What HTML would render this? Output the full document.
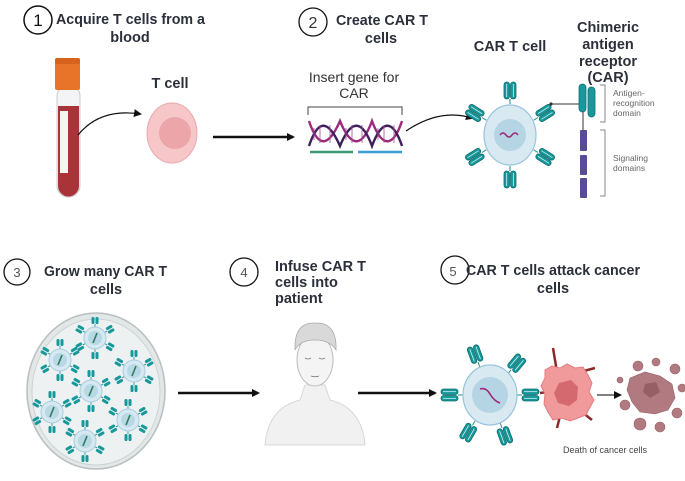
<!DOCTYPE html>
<html><head><meta charset="utf-8"><style>
html,body{margin:0;padding:0;background:#fff;}
svg{display:block;font-family:"Liberation Sans",sans-serif;}
.h{font-weight:bold;font-size:14.5px;fill:#2b2f3a;}
.n{font-size:14px;fill:#333;}
.s{font-size:8.5px;fill:#666;}
</style></head><body>
<svg width="685" height="481" viewBox="0 0 685 481" xmlns="http://www.w3.org/2000/svg">
<defs>
<g id="rc">
<line x1="0" y1="0" x2="0" y2="-5" stroke="#1f8a8c" stroke-width="1"/>
<rect x="-6" y="-22" width="5.5" height="17" rx="2.7" fill="#17999b" stroke="#0f6e70" stroke-width="0.8"/>
<rect x="0.5" y="-22" width="5.5" height="17" rx="2.7" fill="#17999b" stroke="#0f6e70" stroke-width="0.8"/>
<line x1="-3.3" y1="-20" x2="-3.3" y2="-7" stroke="#e8fafa" stroke-width="0.7"/>
<line x1="3.3" y1="-20" x2="3.3" y2="-7" stroke="#e8fafa" stroke-width="0.7"/>
</g>
<g id="mr">
<line x1="0" y1="0" x2="0" y2="-3" stroke="#1f8a8c" stroke-width="0.8"/>
<rect x="-3.5" y="-10" width="3" height="7" rx="1.4" fill="#17999b"/>
<rect x="0.5" y="-10" width="3" height="7" rx="1.4" fill="#17999b"/>
</g>
<g id="mc">
<use href="#mr" transform="translate(0,-11)"/>
<use href="#mr" transform="rotate(60) translate(0,-11)"/>
<use href="#mr" transform="rotate(120) translate(0,-11)"/>
<use href="#mr" transform="rotate(180) translate(0,-11)"/>
<use href="#mr" transform="rotate(240) translate(0,-11)"/>
<use href="#mr" transform="rotate(300) translate(0,-11)"/>
<circle r="11" fill="#d6e9f1" stroke="#a9cde0" stroke-width="1"/>
<circle r="7" fill="#b9d8e6"/>
<path d="M-2,5 L2,-5" stroke="#2e7d5a" stroke-width="1.6"/>
</g>
<marker id="ah" markerWidth="8" markerHeight="8" refX="6" refY="4" orient="auto" markerUnits="userSpaceOnUse"><path d="M0,0 L8,4 L0,8 Z" fill="#111"/></marker>
</defs>

<!-- Step 1 -->
<circle cx="38" cy="20" r="14" fill="none" stroke="#111" stroke-width="1.5"/>
<text x="38" y="26" text-anchor="middle" font-size="17" fill="#111">1</text>
<text x="56" y="24" class="h" textLength="149" lengthAdjust="spacingAndGlyphs">Acquire T cells from a</text>
<text x="130" y="42" class="h" text-anchor="middle">blood</text>
<rect x="57" y="85" width="23" height="112" rx="11" fill="#f2f4f5" stroke="#ccc"/>
<path d="M58,106 L79,106 L79,186 A10.5,10.5 0 0 1 58,186 Z" fill="#a8343a"/>
<rect x="60" y="111" width="8" height="62" fill="#f4f4f0"/>
<rect x="55" y="60" width="25" height="30" rx="2" fill="#e8742a"/>
<rect x="55" y="58" width="25" height="6" rx="2" fill="#d7621c"/>
<path d="M78,135 Q100,108 140,114" fill="none" stroke="#111" stroke-width="1.2" marker-end="url(#ah)"/>
<text x="170" y="88" class="h" font-size="13" text-anchor="middle">T cell</text>
<ellipse cx="172" cy="133" rx="25" ry="30" fill="#f6c6c8" stroke="#e9a8ab"/>
<circle cx="175" cy="133" r="16" fill="#eca6aa"/>
<line x1="213" y1="137" x2="293" y2="137" stroke="#111" stroke-width="2.5" marker-end="url(#ah)"/>

<!-- Step 2 -->
<circle cx="313" cy="22" r="14" fill="none" stroke="#111" stroke-width="1.3"/>
<text x="313" y="28" text-anchor="middle" font-size="16" fill="#333">2</text>
<text x="336" y="25" class="h" textLength="92" lengthAdjust="spacingAndGlyphs">Create CAR T</text>
<text x="381" y="43" class="h" text-anchor="middle">cells</text>
<text x="354" y="82" class="n" text-anchor="middle">Insert gene for</text>
<text x="354" y="98" class="n" text-anchor="middle">CAR</text>
<path d="M308,115 L308,107 L402,107 L402,115" fill="none" stroke="#444" stroke-width="1"/>
<g fill="none" stroke-width="2.4">
<path d="M309,121 C318,148 328,148 340,121 C351,148 362,148 372,121 C382,148 393,148 402,121" stroke="#9c2a7c"/>
<path d="M309,146 C318,119 328,119 340,146 C351,119 362,119 372,146 C382,119 393,119 402,146" stroke="#3c1f5c"/>
</g>
<g stroke="#a0528f" stroke-width="0.8">
<line x1="314" y1="128" x2="314" y2="140"/><line x1="320" y1="125" x2="320" y2="143"/><line x1="330" y1="125" x2="330" y2="143"/><line x1="346" y1="128" x2="346" y2="140"/><line x1="352" y1="125" x2="352" y2="143"/><line x1="362" y1="125" x2="362" y2="143"/><line x1="378" y1="128" x2="378" y2="140"/><line x1="384" y1="125" x2="384" y2="143"/><line x1="394" y1="125" x2="394" y2="143"/>
</g>
<line x1="310" y1="152" x2="353" y2="152" stroke="#3a9a76" stroke-width="2.5"/>
<line x1="358" y1="152" x2="402" y2="152" stroke="#3b9bd2" stroke-width="2.5"/>
<path d="M406,131 Q440,108 472,118" fill="none" stroke="#111" stroke-width="1.2" marker-end="url(#ah)"/>

<!-- CAR T cell -->
<text x="510" y="51" class="h" font-size="13.5" text-anchor="middle">CAR T cell</text>
<g transform="translate(510,135)">
<use href="#rc" transform="translate(0,-31)"/>
<use href="#rc" transform="rotate(58) translate(0,-28)"/>
<use href="#rc" transform="rotate(122) translate(0,-28)"/>
<use href="#rc" transform="rotate(180) translate(0,-31)"/>
<use href="#rc" transform="rotate(238) translate(0,-28)"/>
<use href="#rc" transform="rotate(302) translate(0,-28)"/>
<ellipse rx="26" ry="30" fill="#d8e9f1" stroke="#97c5dc" stroke-width="1.2"/>
<circle r="16" fill="#b5d5e4"/>
<path d="M-10,0 Q-7,-4 -4,0 T2,0 T8,0" fill="none" stroke="#9c2a7c" stroke-width="1.5"/>
</g>
<line x1="551" y1="104" x2="580" y2="104" stroke="#333" stroke-width="1"/>
<circle cx="551" cy="104" r="1.6" fill="#333"/>
<text x="608" y="32" class="h" font-size="13.5" text-anchor="middle">Chimeric</text>
<text x="608" y="49" class="h" font-size="13.5" text-anchor="middle">antigen</text>
<text x="608" y="66" class="h" font-size="13.5" text-anchor="middle">receptor</text>
<text x="608" y="82" class="h" font-size="13.5" text-anchor="middle">(CAR)</text>
<rect x="579" y="84" width="7" height="28" rx="3.5" fill="#17999b" stroke="#0f6e70" stroke-width="0.8"/>
<rect x="588" y="87" width="7" height="30" rx="3.5" fill="#17999b" stroke="#0f6e70" stroke-width="0.8"/>
<line x1="583" y1="112" x2="583" y2="130" stroke="#555" stroke-width="1.2"/>
<rect x="580" y="130" width="7" height="21" rx="1" fill="#5a4a9a"/>
<rect x="580" y="155" width="7" height="20" rx="1" fill="#5a4a9a"/>
<rect x="580" y="178" width="7" height="20" rx="1" fill="#5a4a9a"/>
<path d="M600,85 L605,85 L605,122 L600,122 M600,130 L605,130 L605,196 L600,196" fill="none" stroke="#888" stroke-width="1"/>
<text x="613" y="96" class="s">Antigen-</text>
<text x="613" y="106" class="s">recognition</text>
<text x="613" y="116" class="s">domain</text>
<text x="613" y="161" class="s">Signaling</text>
<text x="613" y="171" class="s">domains</text>

<!-- Step 3 -->
<circle cx="17" cy="272" r="13" fill="none" stroke="#111" stroke-width="1.3"/>
<text x="17" y="277" text-anchor="middle" font-size="13" fill="#555">3</text>
<text x="44" y="276" class="h" textLength="123" lengthAdjust="spacingAndGlyphs">Grow many CAR T</text>
<text x="106" y="294" class="h" text-anchor="middle">cells</text>
<ellipse cx="96" cy="391" rx="69" ry="78" fill="#e2e7e8" stroke="#b9bfc1" stroke-width="1.5"/>
<ellipse cx="96" cy="392" rx="64" ry="73" fill="#edf1f2" stroke="#cdd3d4" stroke-width="1"/>
<use href="#mc" transform="translate(60,360)"/>
<use href="#mc" transform="translate(95,338)"/>
<use href="#mc" transform="translate(134,371)"/>
<use href="#mc" transform="translate(91,391)"/>
<use href="#mc" transform="translate(52,412)"/>
<use href="#mc" transform="translate(128,420)"/>
<use href="#mc" transform="translate(85,441)"/>
<line x1="178" y1="393" x2="258" y2="393" stroke="#111" stroke-width="2.5" marker-end="url(#ah)"/>

<!-- Step 4 -->
<circle cx="244" cy="272" r="14" fill="none" stroke="#111" stroke-width="1.3"/>
<text x="244" y="277" text-anchor="middle" font-size="13" fill="#555">4</text>
<text x="275" y="271" class="h">Infuse CAR T</text>
<text x="275" y="287" class="h">cells into</text>
<text x="275" y="303" class="h">patient</text>
<path d="M265,445 Q268,408 300,400 L305,385 L325,385 L330,400 Q362,408 365,445 Z" fill="#f1f1f1" stroke="#d8d8d8"/>
<ellipse cx="315" cy="360" rx="18" ry="26" fill="#f4f4f4" stroke="#bbb"/>
<path d="M295,350 Q294,322 315,323 Q337,322 336,350 Q330,340 315,340 Q300,340 295,350 Z" fill="#d9d9d9" stroke="#aaa" stroke-width="0.8"/>
<path d="M305,358 q3,2 6,0 M319,358 q3,2 6,0 M311,376 q4,1.5 8,0" fill="none" stroke="#777" stroke-width="0.8"/>
<line x1="358" y1="393" x2="435" y2="393" stroke="#111" stroke-width="2.5" marker-end="url(#ah)"/>

<!-- Step 5 -->
<circle cx="455" cy="270" r="14" fill="none" stroke="#111" stroke-width="1.3"/>
<text x="453" y="276" text-anchor="middle" font-size="13" fill="#555">5</text>
<text x="466" y="275" class="h" textLength="174" lengthAdjust="spacingAndGlyphs">CAR T cells attack cancer</text>
<text x="553" y="293" class="h" text-anchor="middle">cells</text>
<g transform="translate(490,395)">
<use href="#rc" transform="rotate(-20) translate(0,-30)"/>
<use href="#rc" transform="rotate(40) translate(0,-28)"/>
<use href="#rc" transform="rotate(90) translate(0,-27)"/>
<use href="#rc" transform="rotate(-90) translate(0,-27)"/>
<use href="#rc" transform="rotate(160) translate(0,-30)"/>
<use href="#rc" transform="rotate(210) translate(0,-30)"/>
<ellipse rx="27" ry="30" fill="#d8e9f1" stroke="#97c5dc" stroke-width="1.2"/>
<circle r="18" fill="#b5d5e4"/>
<path d="M-10,-6 Q-4,-8 0,-1 T10,8" fill="none" stroke="#9c2a7c" stroke-width="1.6"/>
</g>
<g stroke="#8a2a2a" stroke-width="2.5">
<line x1="540" y1="393" x2="548" y2="392"/><line x1="557" y1="372" x2="553" y2="348"/><line x1="580" y1="372" x2="595" y2="368"/><line x1="582" y1="412" x2="592" y2="420"/><line x1="560" y1="416" x2="557" y2="428"/>
</g>
<path d="M545,370 L552,366 L560,368 L567,364 L575,368 L583,367 L588,375 L592,383 L589,392 L594,400 L589,409 L586,415 L578,418 L570,421 L562,418 L553,420 L548,412 L544,404 L545,394 L541,386 L545,378 Z" fill="#f19a9b" stroke="#e47b7f"/>
<path d="M559,383 L571,380 L578,387 L577,400 L569,406 L558,403 L554,393 Z" fill="#d46a70"/>
<line x1="597" y1="395" x2="620" y2="395" stroke="#333" stroke-width="1.2" marker-end="url(#ah)"/>
<g fill="#b07a80" stroke="#9a6066" stroke-width="0.6">
<path d="M630,378 L645,372 L660,376 L672,384 L675,398 L668,410 L655,414 L640,412 L632,402 L627,390 Z"/>
<circle cx="638" cy="366" r="5"/><circle cx="656" cy="362" r="4"/><circle cx="675" cy="369" r="5"/><circle cx="682" cy="388" r="4"/><circle cx="625" cy="405" r="5"/><circle cx="640" cy="424" r="6"/><circle cx="660" cy="427" r="5"/><circle cx="677" cy="413" r="5"/><circle cx="620" cy="380" r="3"/>
</g>
<path d="M645,384 L656,382 L660,392 L650,398 L643,392 Z" fill="#946066"/>
<text x="563" y="453" font-size="9" fill="#444">Death of cancer cells</text>
</svg>
</body></html>
